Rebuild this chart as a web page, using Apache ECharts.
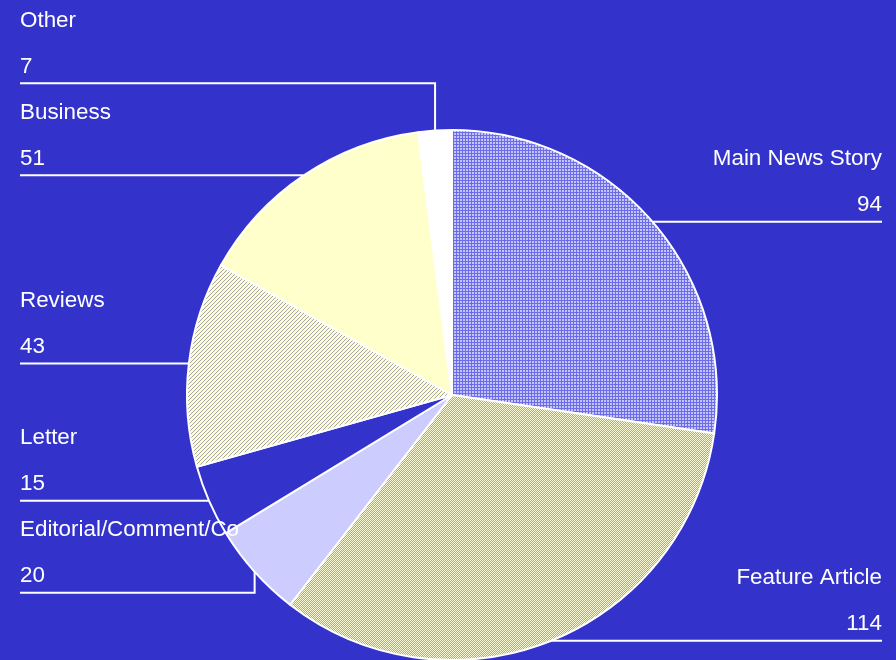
<!DOCTYPE html>
<html>
<head>
<meta charset="utf-8">
<script src="https://cdn.jsdelivr.net/npm/echarts@6/dist/echarts.min.js"></script>
<style>
html,body{margin:0;padding:0;background:#3333cc;}
#chart{width:896px;height:660px;}
</style>
</head>
<body>
<div id="chart"></div>
<script>
// ---- data ----
const categories = ['Main News Story', 'Feature Article', 'Editorial/Comment/Co', 'Letter', 'Reviews', 'Business', 'Other'];
const values = [94, 114, 20, 15, 43, 51, 7];

// ---- styles ----
function makePattern(w, h, fn) {
  const c = document.createElement('canvas');
  c.width = w; c.height = h;
  const ctx = c.getContext('2d');
  for (let y = 0; y < h; y++) for (let x = 0; x < w; x++) {
    ctx.fillStyle = fn(x, y);
    ctx.fillRect(x, y, 1, 1);
  }
  return { image: c, repeat: 'repeat' };
}
const sliceFills = [
  makePattern(3, 3, (x, y) => (x === 0 || y === 0) ? '#6c6ce8' : '#c4c4fc'),
  makePattern(2, 2, (x, y) => ((x + y) % 2 === 0) ? '#f8f8d4' : '#a2a2d2'),
  '#ccccff',
  '#3333cc',
  makePattern(4, 4, (x, y) => ((x + y) % 4 === 0) ? '#a4a4b0' : '#ffffcc'),
  '#ffffcc',
  '#ffffff'
];

const pieCenter = [452, 395];
const anchors = {};
let finalY = null;

const chart = echarts.init(document.getElementById('chart'), null, { renderer: 'canvas' });

function buildOption() {
  return {
    backgroundColor: '#3333cc',
    animation: false,
    series: [{
      type: 'pie',
      left: 0, top: 0, width: 902, height: 760,
      center: pieCenter,
      radius: 265,
      startAngle: 90,
      clockwise: true,
      data: categories.map((n, i) => ({
        name: n, value: values[i],
        itemStyle: { color: sliceFills[i] }
      })),
      itemStyle: { borderColor: '#ffffff', borderWidth: 2 },
      emphasis: { disabled: true },
      label: {
        show: true,
        alignTo: 'edge',
        edgeDistance: 20,
        formatter: '{b}\n{c}',
        color: '#ffffff',
        fontSize: 22.4,
        fontFamily: '"Liberation Sans", Arial, sans-serif',
        lineHeight: 46,
        minMargin: 0
      },
      labelLine: {
        show: true,
        length: 0,
        length2: 0,
        lineStyle: { color: '#ffffff', width: 2 }
      },
      labelLayout: function (params) {
        const pts = params.labelLinePoints;
        const r = params.labelRect;
        const isLeft = r.x < 448;
        if (!pts) return {};
        anchors[params.dataIndex] = { x: pts[0][0], y: pts[0][1], left: isLeft, h: r.height };
        if (!finalY) return {};
        const ly = finalY[params.dataIndex];
        const farX = isLeft ? r.x : r.x + r.width;
        return {
          y: ly + 6,
          verticalAlign: 'bottom',
          labelLinePoints: [[pts[0][0], pts[0][1]], [pts[0][0], ly], [farX, ly]]
        };
      }
    }]
  };
}

chart.setOption(buildOption());

// resolve label overlap: push labels away from the horizontal centre line
function resolve() {
  const res = {};
  [true, false].forEach(side => {
    const items = Object.keys(anchors).map(Number).filter(i => anchors[i].left === side);
    const upper = items.filter(i => anchors[i].y <= pieCenter[1]).sort((a, b) => anchors[b].y - anchors[a].y);
    const lower = items.filter(i => anchors[i].y > pieCenter[1]).sort((a, b) => anchors[a].y - anchors[b].y);
    let prev = null;
    upper.forEach(i => {
      let y = anchors[i].y;
      if (prev !== null) y = Math.min(y, prev - anchors[i].h);
      res[i] = y; prev = y;
    });
    prev = null;
    lower.forEach(i => {
      let y = anchors[i].y;
      if (prev !== null) y = Math.max(y, prev + anchors[i].h);
      res[i] = y; prev = y;
    });
  });
  return res;
}
finalY = resolve();
chart.setOption(buildOption(), true);
</script>
</body>
</html>
